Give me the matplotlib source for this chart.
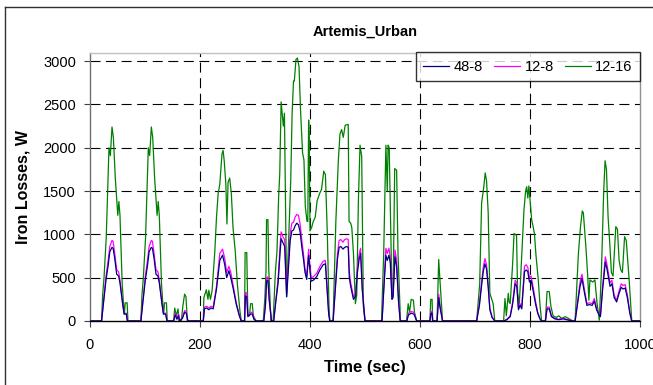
import numpy as np
import matplotlib
matplotlib.use('Agg')
from matplotlib import pyplot as plt

plt.rcParams['font.family'] = ['Liberation Sans', 'DejaVu Sans']

# 12-16 (green) trace: time (sec), iron losses (W)
t_1216 = [0, 21, 23, 25.5, 29.5, 32.5, 34.5, 37, 40, 42.5, 46, 49, 50.5, 52.5, 54.5, 58.5, 61, 62.5, 64, 67.5, 69,
          92.5, 94.5, 97, 101, 104, 106, 108.5, 111.5, 114, 117.5, 120.5, 122, 124, 126, 130, 132.5, 134, 135.5, 139, 140.5,
          152, 154, 157, 160, 162, 166, 169, 172, 174.5, 177,
          206, 207, 211.5, 214.5, 216, 219, 222, 227, 230, 233, 236, 240, 242, 244, 247, 249, 251, 254, 257, 260, 264, 268, 272.5, 275,
          281, 282, 285, 287, 290, 292, 295, 297, 302,
          315, 318, 320, 321, 323.5, 325, 329,
          333, 337, 340, 343, 345, 347.5, 350, 351.5, 353.5, 357.5, 362, 365, 367.5, 370, 371.5, 374.5, 377, 380, 383, 386.5,
          389, 391.5, 394.5, 396, 397.5, 398.5, 400, 403, 406, 409.5, 413, 418, 421, 425, 428, 431.5, 434.5, 436,
          442, 447, 451.5, 454.5, 457.5, 460.5, 464, 469.5, 471, 474, 476, 479, 482.5, 485, 488, 491, 494, 497, 500,
          530, 534, 538, 540.5, 542, 544, 545.5, 549, 551, 554, 557.5, 560, 564.5,
          575.5, 578.5, 581, 584, 588, 590, 594,
          618, 619.5, 622, 623, 631, 634, 636, 641,
          703, 708.5, 712, 716, 718.5, 721, 724, 727, 733, 736,
          752, 754.5, 757, 760.5, 762, 764, 768.5, 771, 775.5, 777.5, 780.5, 782.5, 786, 789, 792, 794, 796, 798, 803, 806,
          808, 811, 815, 818, 821,
          828, 831, 835, 838, 842, 848, 852, 858, 864, 870, 878,
          882, 888, 892, 895, 897, 902, 905, 907, 909, 914, 918, 922, 926, 930, 934, 936.5, 939, 942, 945, 948, 951, 956,
          959, 962, 965, 968, 972, 975, 980, 985, 1000]
v_1216 = [0, 0, 300, 500, 960, 1580, 2000, 1910, 2240, 2120, 1650, 1360, 1220, 1380, 1220, 430, 190, 80, 210, 210, 0,
          0, 300, 500, 960, 1580, 2000, 1910, 2240, 2120, 1650, 1360, 1220, 1380, 1220, 430, 190, 80, 210, 210, 0,
          0, 150, 60, 140, 0, 0, 180, 310, 280, 0,
          0, 270, 360, 250, 355, 250, 350, 810, 1200, 1470, 1580, 1930, 1970, 1850, 1580, 1120, 1600, 1650, 1470, 1080, 810, 420, 120, 0,
          0, 790, 790, 80, 60, 200, 200, 60, 0,
          0, 270, 580, 1170, 1170, 600, 0,
          0, 560, 810, 1440, 1700, 2530, 2350, 2250, 2400, 280, 1090, 1630, 2400, 2770, 2770, 3020, 3036, 2940, 2400, 1940,
          1860, 1320, 1150, 1150, 2320, 2150, 1040, 1080, 1150, 1200, 1390, 1480, 1520, 1730, 1690, 1010, 170, 0,
          0, 1150, 1850, 2160, 2210, 2120, 2260, 2270, 1150, 1130, 1080, 780, 200, 300, 1400, 2030, 1900, 170, 0,
          0, 780, 2030, 1500, 2030, 2000, 1500, 320, 300, 1760, 1740, 780, 0,
          0, 200, 100, 250, 240, 100, 0,
          0, 250, 250, 0, 0, 710, 500, 0,
          0, 425, 1360, 1550, 1710, 1620, 1250, 320, 200, 0,
          0, 260, 60, 320, 220, 200, 670, 1010, 990, 320, 200, 435, 900, 1280, 1500, 1550, 1420, 1560, 1170, 1080,
          1010, 750, 480, 200, 0,
          0, 340, 340, 170, 60, 40, 60, 30, 50, 30, 0,
          0, 780, 1100, 1270, 1250, 820, 510, 240, 474, 450, 474, 200, 10, 600, 1500, 1850, 1750, 1200, 900, 560, 520, 1090,
          1060, 700, 590, 560, 974, 930, 500, 0, 0]

# 12-8 (magenta) and 48-8 (navy) traces share one time base
t_8 = [0, 21, 25, 29, 33, 36, 40, 42, 45, 48.5, 52, 54.5, 59.5, 62, 66, 68,
       92.5, 96.5, 100.5, 104.5, 107.5, 111.5, 113.5, 116.5, 120, 123.5, 126, 131, 133.5, 137.5, 140,
       152, 155, 158, 161, 163, 168, 172, 175, 178,
       206, 208, 212, 216, 220, 224, 230, 236, 241, 245, 248.5, 252.5, 256, 260.5, 266, 271.5, 275,
       281, 282.5, 285, 287, 292, 295, 298, 302,
       316, 319, 321, 323.5, 326, 330,
       334, 338, 342, 345.5, 347.5, 351, 354, 357.5, 361, 364, 367, 370, 373, 376, 379, 382, 385, 388, 391, 394, 397.5,
       399, 402, 406, 412, 418, 424, 428, 431, 434, 436,
       442, 447, 450, 453, 456, 460, 463, 467, 469.5, 471.5, 474, 479, 483, 486, 489.5, 492, 495, 500,
       531, 535, 538, 540.5, 543.5, 546, 549, 551, 554.5, 557.5, 561, 564,
       576, 579, 584, 589, 594,
       618, 620, 622, 623, 631, 634, 636, 641,
       703, 708, 712, 715, 718, 721, 724, 727, 731, 736,
       752, 758, 764, 768, 770, 773, 776, 779, 782, 785, 788, 790, 793, 796, 799, 802, 806, 810, 814, 818, 821,
       828, 831, 835, 839, 845, 852, 860, 870, 878,
       882, 887, 891, 894.5, 898, 903.5, 908, 913, 917, 921, 925, 928, 932, 937, 940, 945.5, 949, 953, 957.5, 962, 966,
       969, 973, 977, 981.5, 985, 1000]
v_128 = [0, 0, 250, 510, 700, 860, 930, 920, 780, 590, 570, 470, 200, 90, 90, 0,
         0, 250, 510, 700, 860, 930, 920, 780, 590, 570, 470, 200, 90, 90, 0,
         0, 90, 30, 80, 0, 40, 120, 110, 0,
         0, 160, 170, 150, 170, 160, 400, 780, 830, 720, 560, 630, 560, 400, 210, 70, 0,
         0, 330, 320, 60, 100, 100, 30, 0,
         0, 200, 500, 510, 250, 0,
         0, 250, 480, 860, 1030, 970, 940, 320, 700, 1010, 1130, 1140, 1200, 1230, 1220, 1120, 940, 780, 600, 520, 830,
         700, 500, 510, 550, 630, 690, 700, 390, 90, 0,
         0, 500, 780, 930, 940, 910, 940, 950, 940, 560, 440, 280, 320, 600, 780, 840, 400, 0,
         0, 500, 840, 780, 840, 740, 280, 300, 820, 700, 250, 0,
         0, 90, 110, 100, 0,
         0, 110, 110, 0, 0, 310, 200, 0,
         0, 200, 450, 620, 720, 650, 420, 150, 50, 0,
         0, 20, 60, 200, 300, 470, 440, 150, 200, 160, 450, 630, 650, 620, 500, 520, 380, 230, 100, 30, 0,
         0, 160, 160, 60, 30, 20, 30, 15, 0,
         0, 250, 450, 540, 400, 200, 210, 200, 260, 150, 90, 60, 400, 740, 650, 440, 470, 300, 240, 350, 430,
         410, 420, 300, 100, 0, 0]
v_488 = [0, 0, 230, 470, 640, 800, 850, 840, 720, 540, 520, 440, 190, 80, 80, 0,
         0, 230, 470, 640, 800, 850, 840, 720, 540, 520, 440, 190, 80, 80, 0,
         0, 70, 20, 60, 0, 30, 100, 90, 0,
         0, 140, 150, 130, 150, 140, 370, 700, 760, 650, 500, 580, 500, 370, 190, 60, 0,
         0, 290, 280, 50, 80, 80, 20, 0,
         0, 180, 460, 470, 230, 0,
         0, 230, 440, 780, 950, 900, 860, 280, 640, 930, 1040, 1050, 1100, 1130, 1110, 1030, 860, 720, 560, 480, 760,
         640, 460, 470, 510, 590, 650, 660, 360, 80, 0,
         0, 460, 720, 850, 860, 830, 850, 860, 850, 500, 400, 250, 290, 550, 720, 780, 360, 0,
         0, 450, 760, 700, 760, 670, 250, 270, 740, 630, 220, 0,
         0, 70, 90, 80, 0,
         0, 90, 90, 0, 0, 270, 170, 0,
         0, 180, 410, 570, 660, 600, 390, 130, 40, 0,
         0, 15, 50, 180, 270, 430, 400, 130, 180, 140, 400, 570, 590, 570, 450, 470, 340, 200, 90, 25, 0,
         0, 140, 140, 50, 25, 15, 25, 10, 0,
         0, 220, 400, 490, 360, 180, 190, 180, 230, 130, 80, 50, 360, 680, 600, 400, 430, 270, 220, 320, 390,
         370, 380, 270, 90, 0, 0]

x_ticks = [0, 200, 400, 600, 800, 1000]
y_ticks = [0, 500, 1000, 1500, 2000, 2500, 3000]

fig = plt.figure(figsize=(6.53, 3.85), dpi=100)
ax = fig.add_axes([90 / 653, 1 - 321 / 385, 550 / 653, 268.5 / 385])

ax.plot(t_8, v_488, color='#000080', lw=0.9, label='48-8', zorder=4)
ax.plot(t_8, v_128, color='#FF00FF', lw=0.9, label='12-8', zorder=3)
ax.plot(t_1216, v_1216, color='#008000', lw=0.9, label='12-16', zorder=2)

ax.set_xlim(0, 1000)
ax.set_ylim(0, 3100)
ax.set_xticks(x_ticks)
ax.set_yticks(y_ticks)
ax.tick_params(labelsize=10.5, length=4, direction='out', color='#404040')
ax.tick_params(axis='y', pad=6)
ax.tick_params(axis='x', pad=8)

for y in y_ticks[1:]:
    ax.axhline(y, color='black', lw=0.8, ls=(0, (9, 5)), zorder=1)
for x in x_ticks[1:-1]:
    ax.axvline(x, color='black', lw=0.8, ls=(0, (9, 5)), zorder=1)

ax.spines['bottom'].set_color('black')
ax.spines['bottom'].set_zorder(5)
ax.spines['left'].set_color('#707070')
ax.spines['top'].set_color('#c0c0c0')
ax.spines['right'].set_color('#909090')
for s in ax.spines.values():
    s.set_linewidth(1.0)

ax.set_title('Artemis_Urban', fontsize=10.5, fontweight='bold', pad=12)
ax.set_xlabel('Time (sec)', fontsize=12, fontweight='bold', labelpad=6)
ax.set_ylabel('Iron Losses, W', fontsize=11.5, fontweight='bold', labelpad=9)

leg = ax.legend(loc='upper right', bbox_to_anchor=(1, 1), borderaxespad=0, ncol=3,
                fontsize=10.5, handlelength=1.8, handletextpad=0.3, columnspacing=0.75,
                frameon=True, fancybox=False, borderpad=0.5)
leg.get_frame().set_edgecolor('black')
leg.get_frame().set_linewidth(1.0)
leg.set_zorder(6)

# outer chart frame
fig.add_artist(plt.Line2D([5 / 653, 5 / 653], [0, 1 - 7 / 385], color='#303030', lw=1.0))
fig.add_artist(plt.Line2D([5 / 653, 1], [1 - 7 / 385, 1 - 7 / 385], color='#303030', lw=1.0))

fig.savefig('out.png', dpi=100)
